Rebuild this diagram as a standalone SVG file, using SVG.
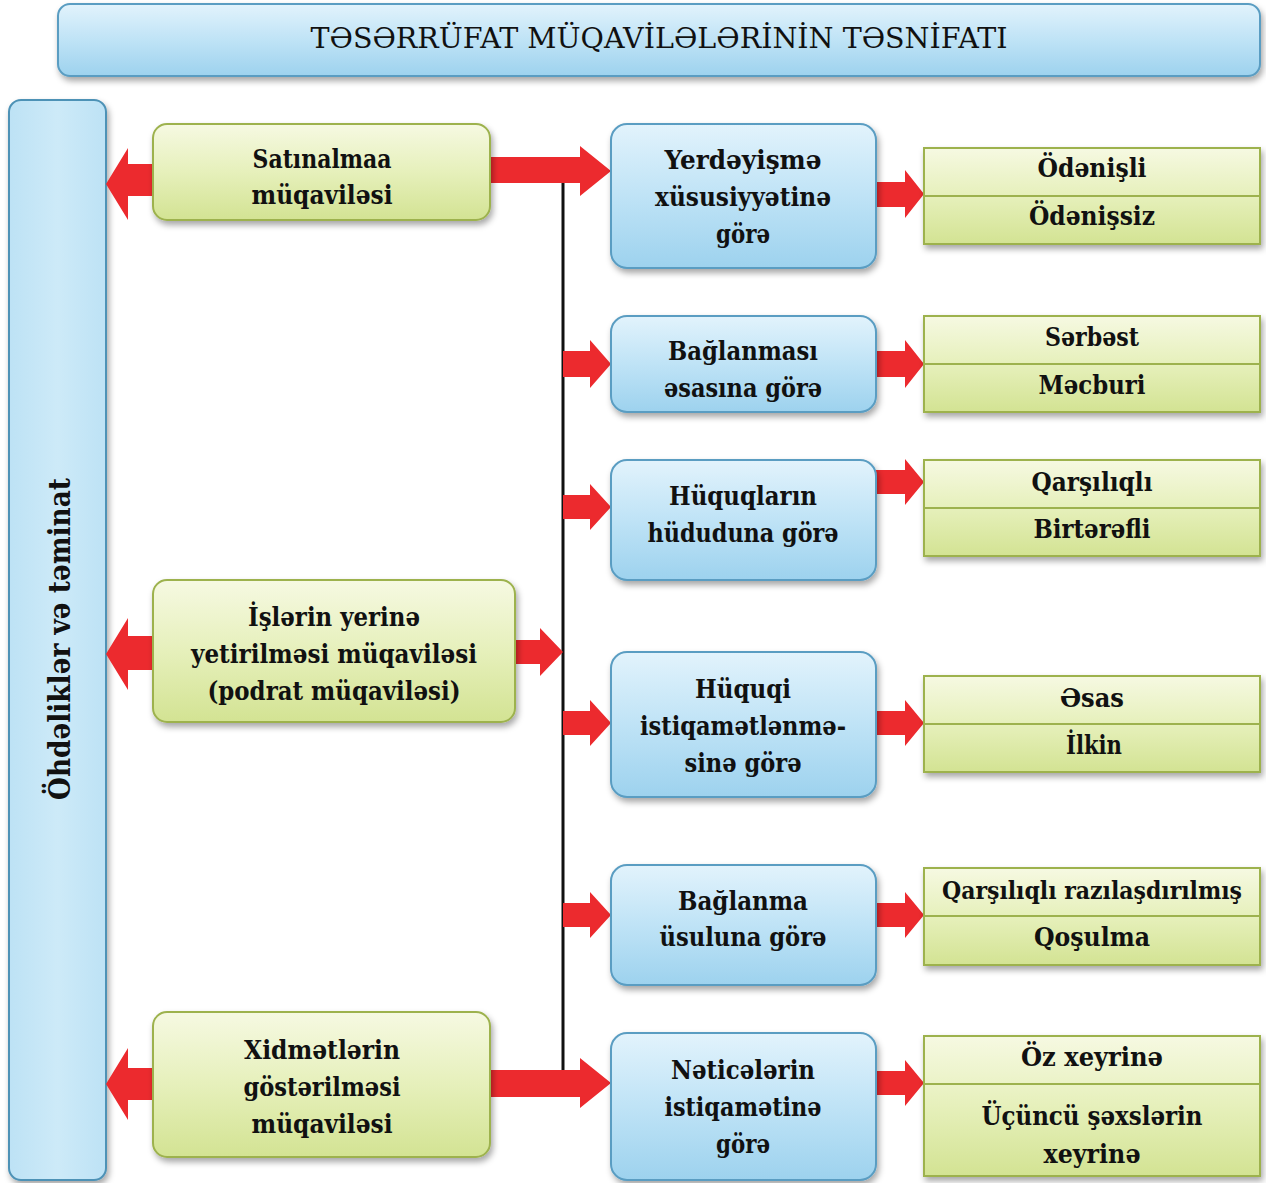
<svg xmlns="http://www.w3.org/2000/svg" width="1266" height="1183" viewBox="0 0 1266 1183">
<defs>
<linearGradient id="gBlue" x1="0" y1="0" x2="0" y2="1">
<stop offset="0" stop-color="#e2f3fc"/>
<stop offset="0.5" stop-color="#bfe3f6"/>
<stop offset="1" stop-color="#9dd2ee"/>
</linearGradient>
<linearGradient id="gGreen" x1="0" y1="0" x2="0" y2="1">
<stop offset="0" stop-color="#f6f9e2"/>
<stop offset="0.5" stop-color="#e6f0bb"/>
<stop offset="1" stop-color="#d3e393"/>
</linearGradient>
<linearGradient id="gSide" x1="0" y1="0" x2="1" y2="0">
<stop offset="0" stop-color="#bde2f5"/>
<stop offset="0.5" stop-color="#cdeaf8"/>
<stop offset="1" stop-color="#bde2f5"/>
</linearGradient>
<filter id="sh" x="-10%" y="-10%" width="120%" height="130%">
<feDropShadow dx="2" dy="4" stdDeviation="3" flood-color="#000" flood-opacity="0.35"/>
</filter>
</defs>
<style>
.blue{fill:url(#gBlue);stroke:#5a9dc2;stroke-width:2;filter:url(#sh)}
.green{fill:url(#gGreen);stroke:#9db24e;stroke-width:2;filter:url(#sh)}
.side{fill:url(#gSide);stroke:#4d92b6;stroke-width:2;filter:url(#sh)}
.div{stroke:#9db24e;stroke-width:2}
.arr{fill:#ec2a2e}
text{font-family:'DejaVu Serif','Liberation Serif',serif;font-weight:bold;font-size:26px;fill:#111;text-anchor:middle}
</style>
<rect width="1266" height="1183" fill="#fff"/>

<g id="title">
<rect x="58" y="4" width="1202" height="72" rx="12" class="blue"/>
<text x="659" y="48" textLength="697" lengthAdjust="spacingAndGlyphs" style="font-size:27px;font-weight:normal">TƏSƏRRÜFAT MÜQAVİLƏLƏRİNİN TƏSNİFATI</text>
</g>

<g id="side">
<rect x="9" y="100" width="97" height="1080" rx="12" class="side"/>
<text transform="translate(70,639) rotate(-90)" x="0" y="0" textLength="322" lengthAdjust="spacingAndGlyphs" style="font-size:30px">Öhdəliklər və təminat</text>
</g>

<g id="connectors">
<line x1="563" y1="183" x2="563" y2="1072" stroke="#111" stroke-width="3"/>
<polygon class="arr" points="155,164 128,164 128,148 106,184 128,220 128,196 155,196"/>
<polygon class="arr" points="155,636 128,636 128,618 106,654 128,690 128,670 155,670"/>
<polygon class="arr" points="155,1068 128,1068 128,1048 106,1084 128,1120 128,1100 155,1100"/>
<polygon class="arr" points="490,157 580,157 580,146 611,171 580,196 580,183 490,183"/>
<polygon class="arr" points="515,640 540,640 540,628 563,652 540,676 540,664 515,664"/>
<polygon class="arr" points="490,1070 580,1070 580,1058 611,1083 580,1108 580,1097 490,1097"/>
<polygon class="arr" points="563,351 590,351 590,340 611,364 590,388 590,377 563,377"/>
<polygon class="arr" points="563,495 590,495 590,484 611,507 590,530 590,519 563,519"/>
<polygon class="arr" points="563,711 590,711 590,700 611,723 590,746 590,735 563,735"/>
<polygon class="arr" points="563,903 590,903 590,892 611,915 590,938 590,927 563,927"/>
<polygon class="arr" points="876,182 905,182 905,170 924,194 905,218 905,207 876,207"/>
<polygon class="arr" points="876,351 905,351 905,340 924,364 905,388 905,377 876,377"/>
<polygon class="arr" points="876,470 905,470 905,459 924,482 905,505 905,494 876,494"/>
<polygon class="arr" points="876,711 905,711 905,700 924,723 905,746 905,735 876,735"/>
<polygon class="arr" points="876,903 905,903 905,892 924,915 905,938 905,927 876,927"/>
<polygon class="arr" points="876,1071 905,1071 905,1060 924,1083 905,1106 905,1095 876,1095"/>
</g>

<g id="satinalma">
<rect x="153" y="124" width="337" height="96" rx="14" class="green"/>
<text x="322" y="168" textLength="139" lengthAdjust="spacingAndGlyphs">Satınalmaa</text>
<text x="322" y="204" textLength="141" lengthAdjust="spacingAndGlyphs">müqaviləsi</text>
</g>

<g id="islerin">
<rect x="153" y="580" width="362" height="142" rx="14" class="green"/>
<text x="334" y="626" textLength="172" lengthAdjust="spacingAndGlyphs">İşlərin yerinə</text>
<text x="334" y="663" textLength="286" lengthAdjust="spacingAndGlyphs">yetirilməsi müqaviləsi</text>
<text x="334" y="700" textLength="253" lengthAdjust="spacingAndGlyphs">(podrat müqaviləsi)</text>
</g>

<g id="xidmetlerin">
<rect x="153" y="1012" width="337" height="145" rx="14" class="green"/>
<text x="322" y="1059" textLength="156" lengthAdjust="spacingAndGlyphs">Xidmətlərin</text>
<text x="322" y="1096" textLength="157" lengthAdjust="spacingAndGlyphs">göstərilməsi</text>
<text x="322" y="1133" textLength="141" lengthAdjust="spacingAndGlyphs">müqaviləsi</text>
</g>

<g id="b1">
<rect x="611" y="124" width="265" height="144" rx="16" class="blue"/>
<text x="743" y="169" textLength="157" lengthAdjust="spacingAndGlyphs">Yerdəyişmə</text>
<text x="743" y="206" textLength="176" lengthAdjust="spacingAndGlyphs">xüsusiyyətinə</text>
<text x="743" y="243" textLength="54" lengthAdjust="spacingAndGlyphs">görə</text>
</g>
<g id="b2">
<rect x="611" y="316" width="265" height="96" rx="16" class="blue"/>
<text x="743" y="360" textLength="150" lengthAdjust="spacingAndGlyphs">Bağlanması</text>
<text x="743" y="397" textLength="158" lengthAdjust="spacingAndGlyphs">əsasına görə</text>
</g>
<g id="b3">
<rect x="611" y="460" width="265" height="120" rx="16" class="blue"/>
<text x="743" y="505" textLength="148" lengthAdjust="spacingAndGlyphs">Hüquqların</text>
<text x="743" y="542" textLength="191" lengthAdjust="spacingAndGlyphs">hüduduna görə</text>
</g>
<g id="b4">
<rect x="611" y="652" width="265" height="145" rx="16" class="blue"/>
<text x="743" y="698" textLength="96" lengthAdjust="spacingAndGlyphs">Hüquqi</text>
<text x="743" y="735" textLength="206" lengthAdjust="spacingAndGlyphs">istiqamətlənmə-</text>
<text x="743" y="772" textLength="117" lengthAdjust="spacingAndGlyphs">sinə görə</text>
</g>
<g id="b5">
<rect x="611" y="865" width="265" height="120" rx="16" class="blue"/>
<text x="743" y="910" textLength="130" lengthAdjust="spacingAndGlyphs">Bağlanma</text>
<text x="743" y="946" textLength="167" lengthAdjust="spacingAndGlyphs">üsuluna görə</text>
</g>
<g id="b6">
<rect x="611" y="1033" width="265" height="147" rx="16" class="blue"/>
<text x="743" y="1079" textLength="144" lengthAdjust="spacingAndGlyphs">Nəticələrin</text>
<text x="743" y="1116" textLength="157" lengthAdjust="spacingAndGlyphs">istiqamətinə</text>
<text x="743" y="1153" textLength="54" lengthAdjust="spacingAndGlyphs">görə</text>
</g>

<g id="g1">
<rect x="924" y="148" width="336" height="96" class="green"/>
<line x1="924" y1="196" x2="1260" y2="196" class="div"/>
<text x="1092" y="177" textLength="109" lengthAdjust="spacingAndGlyphs">Ödənişli</text>
<text x="1092" y="225" textLength="126" lengthAdjust="spacingAndGlyphs">Ödənişsiz</text>
</g>
<g id="g2">
<rect x="924" y="316" width="336" height="96" class="green"/>
<line x1="924" y1="364" x2="1260" y2="364" class="div"/>
<text x="1092" y="346" textLength="94" lengthAdjust="spacingAndGlyphs">Sərbəst</text>
<text x="1092" y="394" textLength="107" lengthAdjust="spacingAndGlyphs">Məcburi</text>
</g>
<g id="g3">
<rect x="924" y="460" width="336" height="96" class="green"/>
<line x1="924" y1="508" x2="1260" y2="508" class="div"/>
<text x="1092" y="491" textLength="121" lengthAdjust="spacingAndGlyphs">Qarşılıqlı</text>
<text x="1092" y="538" textLength="117" lengthAdjust="spacingAndGlyphs">Birtərəfli</text>
</g>
<g id="g4">
<rect x="924" y="676" width="336" height="96" class="green"/>
<line x1="924" y1="724" x2="1260" y2="724" class="div"/>
<text x="1092" y="707" textLength="64" lengthAdjust="spacingAndGlyphs">Əsas</text>
<text x="1094" y="754" textLength="56" lengthAdjust="spacingAndGlyphs">İlkin</text>
</g>
<g id="g5">
<rect x="924" y="868" width="336" height="97" class="green"/>
<line x1="924" y1="916" x2="1260" y2="916" class="div"/>
<text x="1092" y="899" textLength="300" lengthAdjust="spacingAndGlyphs" style="font-size:24px">Qarşılıqlı razılaşdırılmış</text>
<text x="1092" y="946" textLength="116" lengthAdjust="spacingAndGlyphs">Qoşulma</text>
</g>
<g id="g6">
<rect x="924" y="1036" width="336" height="140" class="green"/>
<line x1="924" y1="1084" x2="1260" y2="1084" class="div"/>
<text x="1092" y="1066" textLength="142" lengthAdjust="spacingAndGlyphs">Öz xeyrinə</text>
<text x="1092" y="1125" textLength="221" lengthAdjust="spacingAndGlyphs">Üçüncü şəxslərin</text>
<text x="1092" y="1163" textLength="97" lengthAdjust="spacingAndGlyphs">xeyrinə</text>
</g>
</svg>
